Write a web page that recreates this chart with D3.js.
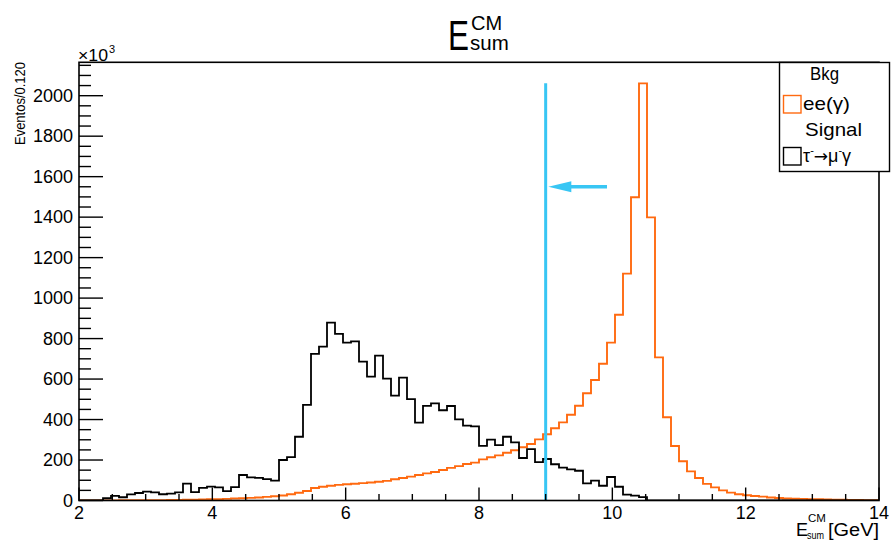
<!DOCTYPE html>
<html>
<head>
<meta charset="utf-8">
<script src="https://cdn.jsdelivr.net/npm/d3@7"></script>
<style>
  html, body { margin: 0; padding: 0; background: #fff; }
  svg { display: block; }
  text { font-family: "Liberation Sans", Arial, Helvetica, sans-serif; fill: #000; }
</style>
</head>
<body>
<svg id="chart" width="891" height="546"></svg>
<script>
// ---------------- data ----------------
const xMin = 2, xMax = 14, binWidth = 0.12;          // 100 bins
const yMax = 2165;
// background ee(gamma), counts in units of 10^3 per bin
const bkgValues = [
  0, 0, 0, 0, 0, 1, 1, 1, 2, 2,
  2, 3, 3, 4, 4, 5, 6, 7, 8, 10,
  11, 13, 15, 18, 21, 25, 31, 38, 47, 62,
  68, 73, 77, 80, 83, 86, 89, 93, 97, 105,
  111, 118, 126, 134, 141, 151, 161, 170, 180, 187,
  203, 214, 223, 236, 248, 263, 279, 302, 327, 357,
  386, 424, 468, 530, 595, 676, 780, 918, 1121, 1498,
  2061, 1399, 707, 411, 269, 194, 144, 111, 82, 65,
  50, 39, 31, 26, 22, 19, 15, 12, 10, 9,
  8, 7, 6, 5, 4, 4, 3, 3, 2, 2
];
// signal tau -> mu gamma
const sigValues = [
  0, 0, 0, 11, 23, 16, 30, 37, 44, 40,
  31, 34, 40, 83, 41, 62, 69, 65, 46, 66,
  126, 114, 112, 106, 98, 200, 214, 315, 472, 724,
  760, 879, 823, 780, 786, 686, 612, 716, 602, 518,
  607, 501, 385, 468, 480, 446, 467, 401, 370, 366,
  270, 301, 274, 315, 287, 210, 254, 190, 205, 179,
  162, 154, 147, 85, 98, 73, 116, 68, 29, 24,
  17, 0, 0, 0, 0, 0, 0, 0, 0, 0,
  0, 0, 0, 0, 0, 0, 0, 0, 0, 0,
  0, 0, 0, 0, 0, 0, 0, 0, 0, 0
];
const xTicks = [2, 4, 6, 8, 10, 12, 14];
const yTicks = [0, 200, 400, 600, 800, 1000, 1200, 1400, 1600, 1800, 2000];
const cutValue = 9;          // E_sum^CM cut
const cutTop = 2061;         // line drawn up to histogram maximum
const arrowFrom = 9.92, arrowTo = 9.04, arrowLevel = 1550;
const legendItems = [
  { label: "Bkg", type: "header" },
  { label: "ee(γ)", type: "bkg" },
  { label: "Signal", type: "header" },
  { label: "sig", type: "sig" }
];

// ---------------- layout ----------------
const svg = d3.select("#chart");
const frame = { left: 79, right: 879, top: 62.3, bottom: 500.5 };
const x = d3.scaleLinear().domain([xMin, xMax]).range([frame.left, frame.right]);
const y = d3.scaleLinear().domain([0, yMax]).range([frame.bottom, frame.top]);
const colBkg = "#ff6a10", colSig = "#000000", colCut = "#38c6f4";

// clip
svg.append("defs").append("clipPath").attr("id", "clipF")
  .append("rect").attr("x", frame.left).attr("y", frame.top - 2)
  .attr("width", frame.right - frame.left).attr("height", frame.bottom - frame.top + 2);

// histogram outline
function histPoints(vals) {
  const pts = [[xMin, 0]];
  vals.forEach((v, i) => {
    const lo = xMin + i * binWidth, hi = xMin + (i + 1) * binWidth;
    pts.push([lo, v]); pts.push([hi, v]);
  });
  pts.push([xMax, 0]);
  return pts;
}
const line = d3.line().x(d => x(d[0])).y(d => y(d[1]));
const g = svg.append("g").attr("clip-path", "url(#clipF)");
g.append("path").attr("d", line(histPoints(bkgValues)))
  .attr("fill", "none").attr("stroke", colBkg).attr("stroke-width", 1.9);
g.append("path").attr("d", line(histPoints(sigValues)))
  .attr("fill", "none").attr("stroke", colSig).attr("stroke-width", 1.8);

// cut line and arrow
svg.append("line")
  .attr("x1", x(cutValue)).attr("x2", x(cutValue))
  .attr("y1", y(0)).attr("y2", y(cutTop))
  .attr("stroke", colCut).attr("stroke-width", 3);
const headLen = 23, headHalf = 5.5;
svg.append("line")
  .attr("x1", x(arrowFrom)).attr("x2", x(arrowTo) + headLen - 2)
  .attr("y1", y(arrowLevel)).attr("y2", y(arrowLevel))
  .attr("stroke", colCut).attr("stroke-width", 3.5);
svg.append("path")
  .attr("d", `M${x(arrowTo)},${y(arrowLevel)} L${x(arrowTo) + headLen},${y(arrowLevel) - headHalf} L${x(arrowTo) + headLen},${y(arrowLevel) + headHalf} Z`)
  .attr("fill", colCut);

// frame
svg.append("rect")
  .attr("x", frame.left).attr("y", frame.top)
  .attr("width", frame.right - frame.left).attr("height", frame.bottom - frame.top)
  .attr("fill", "none").attr("stroke", "#000").attr("stroke-width", 1.6);

// x ticks
const xMinor = d3.range(xMin, xMax + 0.001, 0.5);
svg.append("g").selectAll("line").data(xMinor).join("line")
  .attr("x1", d => x(d)).attr("x2", d => x(d))
  .attr("y1", frame.bottom).attr("y2", d => frame.bottom - (Math.abs(d % 2) < 1e-6 ? 13 : 6.5))
  .attr("stroke", "#000").attr("stroke-width", 1.4);
svg.append("g").selectAll("text").data(xTicks).join("text")
  .attr("x", d => x(d)).attr("y", 519)
  .attr("text-anchor", "middle").attr("font-size", 18)
  .text(d => d);

// y ticks
const yMinor = d3.range(0, yMax, 50);
svg.append("g").selectAll("line").data(yMinor).join("line")
  .attr("x1", frame.left).attr("x2", d => frame.left + (d % 200 === 0 ? 24 : 12))
  .attr("y1", d => y(d)).attr("y2", d => y(d))
  .attr("stroke", "#000").attr("stroke-width", 1.4);
svg.append("g").selectAll("text").data(yTicks).join("text")
  .attr("x", 73).attr("y", d => y(d) + 6.3)
  .attr("text-anchor", "end").attr("font-size", 18)
  .text(d => d);

// x10^3
const mult = svg.append("text").attr("x", 78).attr("y", 61).attr("font-size", 16);
mult.append("tspan").attr("textLength", 30).attr("lengthAdjust", "spacingAndGlyphs").text("×10");
mult.append("tspan").attr("x", 109).attr("y", 53).attr("font-size", 11).text("3");

// y title
svg.append("text")
  .attr("transform", "translate(25,62) rotate(-90)")
  .attr("text-anchor", "end").attr("font-size", 15.5)
  .attr("textLength", 83).attr("lengthAdjust", "spacingAndGlyphs")
  .text("Eventos/0.120");

// x title (single text element with super/subscript)
const xt = svg.append("text").attr("x", 796).attr("y", 536).attr("font-size", 18);
xt.append("tspan").text("E");
xt.append("tspan").attr("x", 808).attr("y", 522).attr("font-size", 11.5).text("CM");
xt.append("tspan").attr("x", 807).attr("y", 539).attr("font-size", 11.5)
  .attr("textLength", 17).attr("lengthAdjust", "spacingAndGlyphs").text("sum");
xt.append("tspan").attr("x", 828).attr("y", 536)
  .attr("textLength", 51).attr("lengthAdjust", "spacingAndGlyphs").text("[GeV]");

// title: E with superscript CM and subscript sum
const title = svg.append("text").attr("x", 448).attr("y", 50);
title.append("tspan").attr("font-size", 43)
  .attr("textLength", 21).attr("lengthAdjust", "spacingAndGlyphs").text("E");
title.append("tspan").attr("x", 471).attr("y", 30).attr("font-size", 20).text("CM");
title.append("tspan").attr("x", 470).attr("y", 50).attr("font-size", 20.5).text("sum");

// legend
const lg = svg.append("g");
lg.append("rect").attr("x", 779.5).attr("y", 62.5).attr("width", 110).attr("height", 109)
  .attr("fill", "#fff").attr("stroke", "#000").attr("stroke-width", 1.4);
const rowY = [80, 110, 136, 162];
legendItems.forEach((it, i) => {
  if (it.type === "header") {
    lg.append("text").attr("x", it.label === "Bkg" ? 810 : 805).attr("y", rowY[i])
      .attr("font-size", 19)
      .attr("textLength", it.label === "Bkg" ? 29 : 57).attr("lengthAdjust", "spacingAndGlyphs")
      .text(it.label);
  } else {
    const col = it.type === "bkg" ? colBkg : colSig;
    lg.append("rect").attr("x", 783.5).attr("y", rowY[i] - 14.5).attr("width", 17.5).attr("height", 17.5)
      .attr("fill", "none").attr("stroke", col).attr("stroke-width", 1.4);
    if (it.type === "bkg") {
      lg.append("text").attr("x", 803).attr("y", rowY[i]).attr("font-size", 19)
        .attr("textLength", 47).attr("lengthAdjust", "spacingAndGlyphs").text(it.label);
    } else {
      const t = lg.append("text").attr("x", 803).attr("y", rowY[i]).attr("font-size", 18);
      t.append("tspan").text("τ");
      t.append("tspan").attr("dy", -8).attr("font-size", 11).text("-");
      t.append("tspan").attr("dy", 8).attr("font-family", "DejaVu Sans").attr("font-size", 17).text("→");
      t.append("tspan").text("μ");
      t.append("tspan").attr("dy", -8).attr("font-size", 11).text("-");
      t.append("tspan").attr("dy", 8).text("γ");
    }
  }
});
</script>
</body>
</html>
